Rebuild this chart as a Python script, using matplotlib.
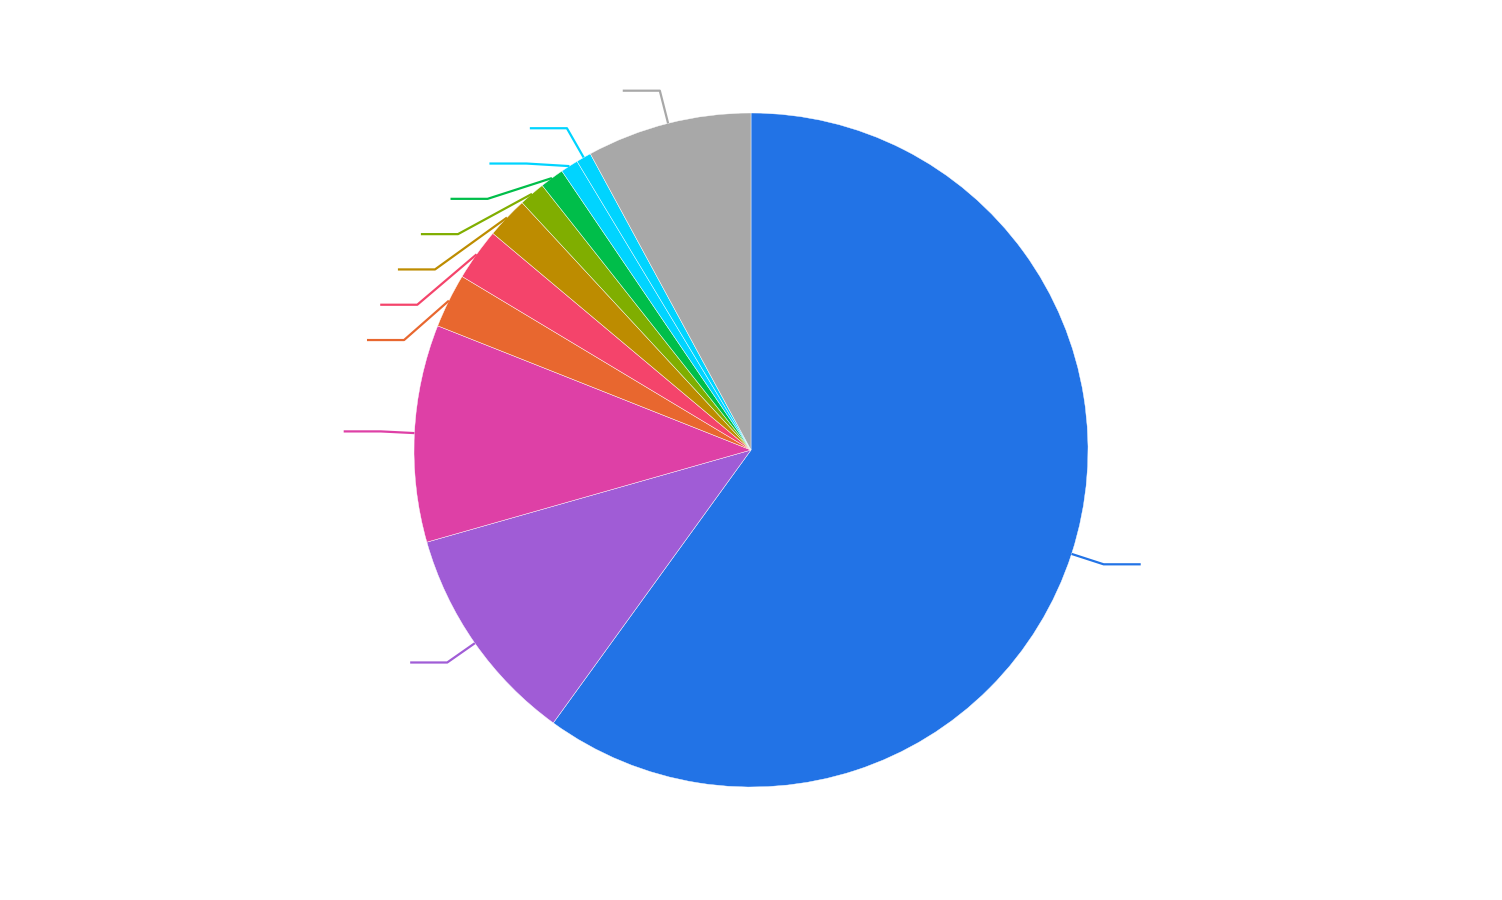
import numpy as np
import matplotlib
matplotlib.use('Agg')
import matplotlib.pyplot as plt

# slice shares (percent), clockwise from 12 o'clock
values = [59.9, 10.6, 10.4, 2.6, 2.5, 2.0, 1.25, 1.15, 0.85, 0.72, 7.9]
colors = ['#2273e6', '#a05cd6', '#de40a6', '#e8672f', '#f4446b', '#bd8c00',
          '#80ae00', '#00be4a', '#00d4ff', '#00d4ff', '#a8a8a8']

W, H, DPI = 1502, 900, 100
R_PX = 337
ELBOW = 1.10
TAIL = 0.11
GAP = 35.3 / R_PX

fig = plt.figure(figsize=(W / DPI, H / DPI), dpi=DPI)
ax = fig.add_axes([0, 0, 1, 1])

wedges, _ = ax.pie(values, colors=colors, startangle=90, counterclock=False,
                   radius=1.0, wedgeprops=dict(edgecolor='white', linewidth=0.3))

# pie() resets the limits, so set them afterwards
ax.set_xlim(-751 / R_PX, (W - 751) / R_PX)
ax.set_ylim(-450 / R_PX, 450 / R_PX)
ax.set_aspect('equal')
ax.axis('off')

# leader lines, label slots pushed apart vertically on each side
items = []
for w, c in zip(wedges, colors):
    mid = np.deg2rad((w.theta1 + w.theta2) / 2)
    items.append(dict(a=mid, c=c, side=np.sign(np.cos(mid)) or 1,
                      y=ELBOW * np.sin(mid)))

for side in (-1, 1):
    grp = sorted([it for it in items if it['side'] == side], key=lambda d: -d['y'])
    prev = None
    for it in grp:
        if prev is not None and it['y'] > prev - GAP:
            it['y'] = prev - GAP
        prev = it['y']

for it in items:
    x0, y0 = np.cos(it['a']), np.sin(it['a'])
    ye = it['y']
    # shifted slots sit a little closer in, as in the reference
    r = ELBOW if abs(ye - ELBOW * np.sin(it['a'])) < 1e-9 else ELBOW - 0.02
    xe = it['side'] * np.sqrt(max(r ** 2 - ye ** 2, 0))
    ax.plot([x0, xe, xe + it['side'] * TAIL], [y0, ye, ye],
            color=it['c'], lw=1.6, solid_capstyle='butt')

fig.savefig('out.png', dpi=DPI, facecolor='white')
